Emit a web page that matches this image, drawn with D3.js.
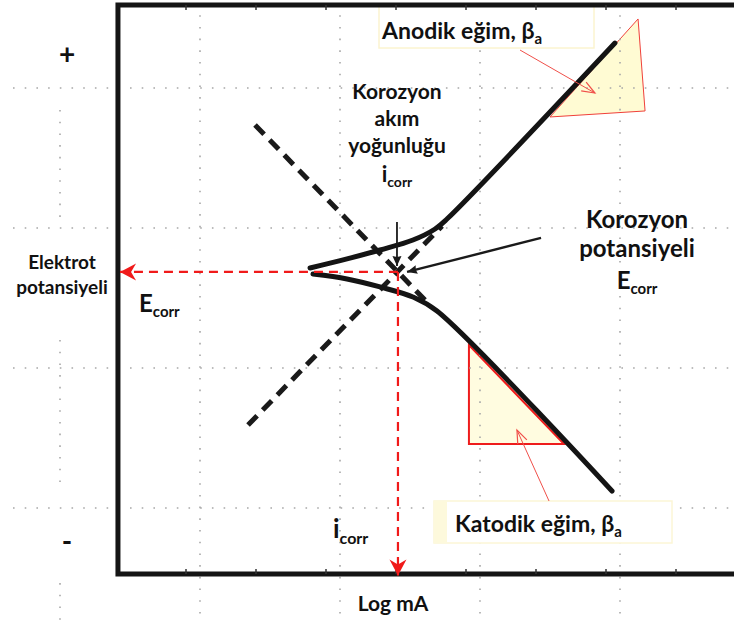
<!DOCTYPE html>
<html>
<head>
<meta charset="utf-8">
<title>Tafel</title>
<style>
    body { margin: 0; background: #fff; }
    text { font-family: Lato, "Open Sans", sans-serif; font-weight: 700; fill: #111; }
</style>
</head>
<body>
<svg id="chart" width="734" height="623"></svg>
<script src="https://cdn.jsdelivr.net/npm/d3@7/dist/d3.min.js"></script>
<script>
// all values in grid divisions (x: log i, y: potential)
var gridX = [0, 1, 2, 3, 4];
var gridY = [0, 1, 2, 3];
var frameX = [0.414, 4.9];
var frameY = [-0.471, 3.593];
var tickX = [0.9, 1.4, 1.9, 2.4, 2.9, 3.4, 3.9, 4.4];

var anodicCurve = [[1.786, 1.714], [2.05, 1.779], [2.286, 1.843], [2.521, 1.914], [2.679, 1.993], [2.764, 2.064], [3.964, 3.321]];
var cathodicCurve = [[1.807, 1.671], [2.05, 1.636], [2.286, 1.579], [2.521, 1.507], [2.693, 1.407], [3.943, 0.121]];
var anodicTafel = [[1.343, 0.593], [2.729, 2.014]];
var cathodicTafel = [[1.393, 2.736], [2.607, 1.486]];
var corrPoint = [2.414, 1.686];
var anodicTriangle = [[3.5, 2.793], [4.179, 2.836], [4.129, 3.493]];
var cathodicTriangle = [[2.921, 1.164], [2.921, 0.457], [3.6, 0.457]];
var ecorrPointer = [[3.436, 1.929], [2.479, 1.686]];
var icorrPointer = [[2.407, 2.043], [2.407, 1.729]];
var anodicArrow = [[3.286, 3.271], [3.821, 2.964]];
var cathodicArrow = [[3.493, 0.05], [3.264, 0.557]];

var centerLabel = ["Korozyon", "akım", "yoğunluğu"];
var rightLabel = ["Korozyon", "potansiyeli"];
var leftLabel = ["Elektrot", "potansiyeli"];

var svg = d3.select("#chart");
var x = d3.scaleLinear().domain([0, 4]).range([60, 620]);
var y = d3.scaleLinear().domain([0, 3]).range([508, 88]);

var line = d3.line().x(function(d) { return x(d[0]); }).y(function(d) { return y(d[1]); });
var curve = d3.line().x(function(d) { return x(d[0]); }).y(function(d) { return y(d[1]); })
    .curve(d3.curveCatmullRom.alpha(0.5));

// slope triangles
svg.append("path").datum(anodicTriangle)
    .attr("d", function(d) { return line(d) + "Z"; })
    .attr("fill", "#fffbd3").attr("stroke", "#f0403a").attr("stroke-width", 1);
svg.append("path").datum(cathodicTriangle)
    .attr("d", function(d) { return line(d) + "Z"; })
    .attr("fill", "#fffce0").attr("stroke", "#ee1c1c").attr("stroke-width", 2);

// dotted grid
var grid = svg.append("g").attr("stroke", "#a8a8a8").attr("stroke-width", 1.6)
    .attr("stroke-dasharray", "1.6,10.1");
grid.selectAll(".h").data(gridY).enter().append("line")
    .attr("x1", 13).attr("x2", 734)
    .attr("y1", function(d) { return y(d); }).attr("y2", function(d) { return y(d); });
gridX.forEach(function(d) {
    var segs = d < frameX[0] ? [[2.843, 2.079], [1.2, 0.179], [-0.536, -0.821]] : [[3.52, -0.821]];
    segs.forEach(function(s) {
        grid.append("line")
            .attr("x1", x(d)).attr("x2", x(d))
            .attr("y1", y(s[0])).attr("y2", y(s[1]));
    });
});

// label boxes
svg.append("rect").attr("x", 379).attr("y", 6).attr("width", 215).attr("height", 42)
    .attr("fill", "#fff").attr("stroke", "#fbf4cf").attr("stroke-width", 1.5);
svg.append("rect").attr("x", 434).attr("y", 501).attr("width", 238).attr("height", 42)
    .attr("fill", "#fff").attr("stroke", "#fcf6d6").attr("stroke-width", 1.5);
svg.append("rect").attr("x", 434).attr("y", 501).attr("width", 13).attr("height", 42)
    .attr("fill", "#fdf9dc");

// frame
var frame = svg.append("g").attr("stroke", "#151515").attr("stroke-width", 5).attr("fill", "none");
frame.append("path").attr("d", "M" + x(frameX[1]) + "," + y(frameY[1]) +
    "H" + x(frameX[0]) + "V" + y(frameY[0]) + "H" + x(frameX[1]));
var ticks = svg.append("g").attr("stroke", "#333").attr("stroke-width", 1.5);
tickX.forEach(function(t) {
    ticks.append("line").attr("x1", x(t)).attr("x2", x(t))
        .attr("y1", y(frameY[0]) - 5).attr("y2", y(frameY[0]));
    ticks.append("line").attr("x1", x(t)).attr("x2", x(t))
        .attr("y1", y(frameY[1])).attr("y2", y(frameY[1]) + 5);
});

// Tafel extrapolations
svg.selectAll(".tafel").data([anodicTafel, cathodicTafel]).enter().append("path")
    .attr("d", line).attr("fill", "none").attr("stroke", "#1a1a1a")
    .attr("stroke-width", 5).attr("stroke-dasharray", "13,8");

// polarization curves
svg.selectAll(".pol").data([anodicCurve, cathodicCurve]).enter().append("path")
    .attr("d", curve).attr("fill", "none").attr("stroke", "#141414")
    .attr("stroke-width", 5).attr("stroke-linecap", "round");

function headPoints(tip, from, len, wid, notch) {
    var tx = x(tip[0]), ty = y(tip[1]);
    var a = Math.atan2(ty - y(from[1]), tx - x(from[0]));
    var c = Math.cos(a), s = Math.sin(a);
    return [[0, 0], [-len, -wid], [-len + notch, 0], [-len, wid]].map(function(p) {
        return [tx + p[0] * c - p[1] * s, ty + p[0] * s + p[1] * c];
    });
}

// red dashed Ecorr / icorr lines
var ecorrEnd = [frameX[0] + 0.015, corrPoint[1]];
var icorrEnd = [corrPoint[0], frameY[0] - 0.012];
svg.selectAll(".red").data([[corrPoint, ecorrEnd], [corrPoint, icorrEnd]]).enter().append("path")
    .attr("d", line).attr("fill", "none").attr("stroke", "#f01a1a")
    .attr("stroke-width", 2.2).attr("stroke-dasharray", "9,6");
[[ecorrEnd, corrPoint], [icorrEnd, corrPoint]].forEach(function(p) {
    svg.append("polygon").attr("points", headPoints(p[0], p[1], 16, 8.5, 5).join(" "))
        .attr("fill", "#f01a1a");
});

// black pointers
[ecorrPointer, icorrPointer].forEach(function(p, i) {
    svg.append("path").datum(p).attr("d", line).attr("stroke", "#1a1a1a")
        .attr("stroke-width", i === 0 ? 2.4 : 1.8);
    svg.append("polygon").attr("points", headPoints(p[1], p[0], 10, 4.5, 1).join(" "))
        .attr("fill", "#1a1a1a");
});

// thin red callout arrows
[anodicArrow, cathodicArrow].forEach(function(p) {
    svg.append("path").datum(p).attr("d", line).attr("stroke", "#f0504a").attr("stroke-width", 1);
    var h = headPoints(p[1], p[0], 13, 5, 0);
    svg.append("polyline").attr("points", [h[1], h[0], h[3]].join(" "))
        .attr("fill", "none").attr("stroke", "#f0504a").attr("stroke-width", 1.2);
});

// text
function label(px, py, main, sub, size, subSize, anchor) {
    var t = svg.append("text").attr("x", px).attr("y", py)
        .attr("font-size", size).attr("text-anchor", anchor || "middle").text(main);
    if (sub) {
        t.append("tspan").attr("font-size", subSize).attr("dy", subSize * 0.35).text(sub);
    }
    return t;
}

label(67, 64, "+", null, 28);
label(67, 551, "-", null, 28);
leftLabel.forEach(function(s, i) { label(62, 269 + i * 25, s, null, 19); });
label(139, 312, "E", "corr", 24, 15, "start");
centerLabel.forEach(function(s, i) { label(397, 99 + i * 27, s, null, 21); });
label(397, 182, "i", "corr", 22, 14);
rightLabel.forEach(function(s, i) { label(637, 228 + i * 29, s, null, 24); });
label(637, 289, "E", "corr", 24, 15);
label(382, 39, "Anodik eğim, β", "a", 23, 15, "start");
label(455, 532, "Katodik eğim, β", "a", 23, 15, "start");
label(333, 538, "i", "corr", 26, 16, "start");
label(393, 611, "Log mA", null, 21);
</script>
</body>
</html>
